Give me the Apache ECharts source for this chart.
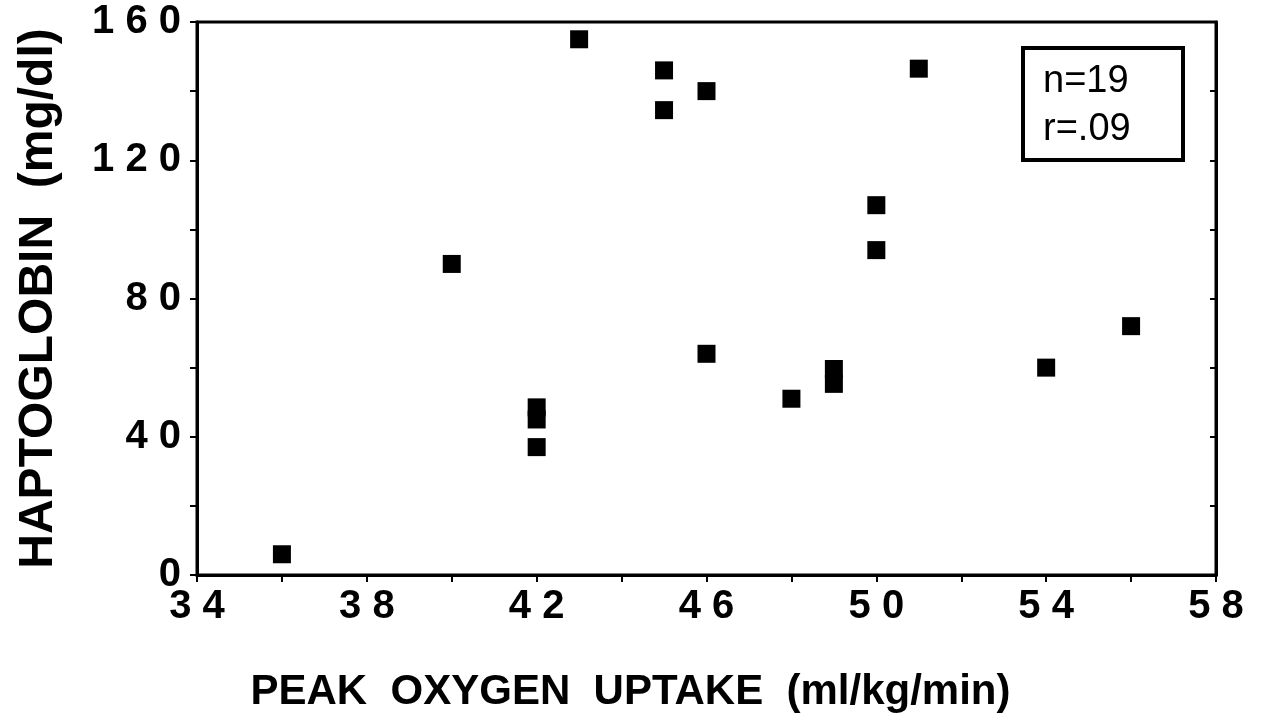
<!DOCTYPE html>
<html>
<head>
<meta charset="utf-8">
<script src="https://cdn.jsdelivr.net/npm/echarts@6/dist/echarts.min.js"></script>
<style>
  html, body { margin: 0; padding: 0; background: #fff; }
  #main { width: 1262px; height: 726px; }
</style>
</head>
<body>
<div id="main"></div>
<script>
// 峰值摄氧量 (x) 与 触珠蛋白 (y)
var oxygenUptake = [36, 40, 42, 42, 42, 43, 45, 45, 46, 46, 48, 49, 49, 50, 50, 51, 54, 56];
var haptoglobin  = [6, 90, 48.5, 45, 37, 155, 146, 134.5, 140, 64, 51, 59.6, 55.3, 107, 94, 146.5, 60, 72];
var xTicks = [34, 38, 42, 46, 50, 54, 58];
var yTicks = [0, 40, 80, 120, 160];
var statsText = ['n=19', 'r=.09'];

var points = oxygenUptake.map(function (x, i) { return [x, haptoglobin[i]]; });

// 数字之间加空格, 像原图 "3 4"
function spaced(v) { return String(v).split('').join(' '); }

var font = '"Liberation Sans", Arial, sans-serif';
var myChart = echarts.init(document.getElementById('main'));

var option = {
  backgroundColor: '#fff',
  animation: false,
  grid: {
    left: 197, right: 46, top: 22, bottom: 151,
    outerBoundsMode: 'none',
    containLabel: false,
    show: true, borderColor: '#000', borderWidth: 3
  },
  xAxis: {
    type: 'value',
    min: 34, max: 58, interval: 2,
    name: 'PEAK  OXYGEN  UPTAKE  (ml/kg/min)',
    nameLocation: 'middle',
    nameGap: 96,
    nameTextStyle: {
      fontFamily: font, fontSize: 42, fontWeight: 'bold', color: '#000',
      padding: [0, 152, 0, 0]
    },
    axisLine: { lineStyle: { color: '#000', width: 3 } },
    axisTick: { length: 7, lineStyle: { color: '#000', width: 2 } },
    splitLine: { show: false },
    axisLabel: {
      margin: 12,
      fontFamily: font, fontSize: 40, fontWeight: 'bold', color: '#000',
      formatter: function (v) { return xTicks.indexOf(v) >= 0 ? spaced(v) : ''; }
    }
  },
  yAxis: [{
    type: 'value',
    min: 0, max: 160, interval: 20,
    name: 'HAPTOGLOBIN  (mg/dl)',
    nameLocation: 'middle',
    nameGap: 134,
    nameTextStyle: { fontFamily: font, fontSize: 48, fontWeight: 'bold', color: '#000' },
    axisLine: { lineStyle: { color: '#000', width: 3 } },
    axisTick: { length: 7, lineStyle: { color: '#000', width: 2 } },
    splitLine: { show: false },
    axisLabel: {
      margin: 16,
      fontFamily: font, fontSize: 40, fontWeight: 'bold', color: '#000',
      formatter: function (v) { return yTicks.indexOf(v) >= 0 ? spaced(v) : ''; }
    }
  }, {
    // 右侧的刻度
    type: 'value',
    position: 'right',
    min: 0, max: 160, interval: 20,
    axisLine: { show: true, lineStyle: { color: '#000', width: 3 } },
    axisTick: { inside: true, length: 6, lineStyle: { color: '#000', width: 2 } },
    axisLabel: { show: false },
    splitLine: { show: false }
  }],
  graphic: [{
    type: 'rect',
    shape: { x: 1023, y: 48, width: 160, height: 112 },
    style: { fill: '#fff', stroke: '#000', lineWidth: 4 }
  }, {
    type: 'text',
    left: 1043, top: 58,
    style: {
      text: statsText.join('\n'),
      font: '38px ' + font,
      lineHeight: 48,
      fill: '#000'
    }
  }],
  series: [{
    name: 'haptoglobin',
    type: 'scatter',
    symbol: 'rect',
    symbolSize: [18, 18],
    itemStyle: { color: '#000', opacity: 1 },
    data: points
  }]
};
myChart.setOption(option);
</script>
</body>
</html>
